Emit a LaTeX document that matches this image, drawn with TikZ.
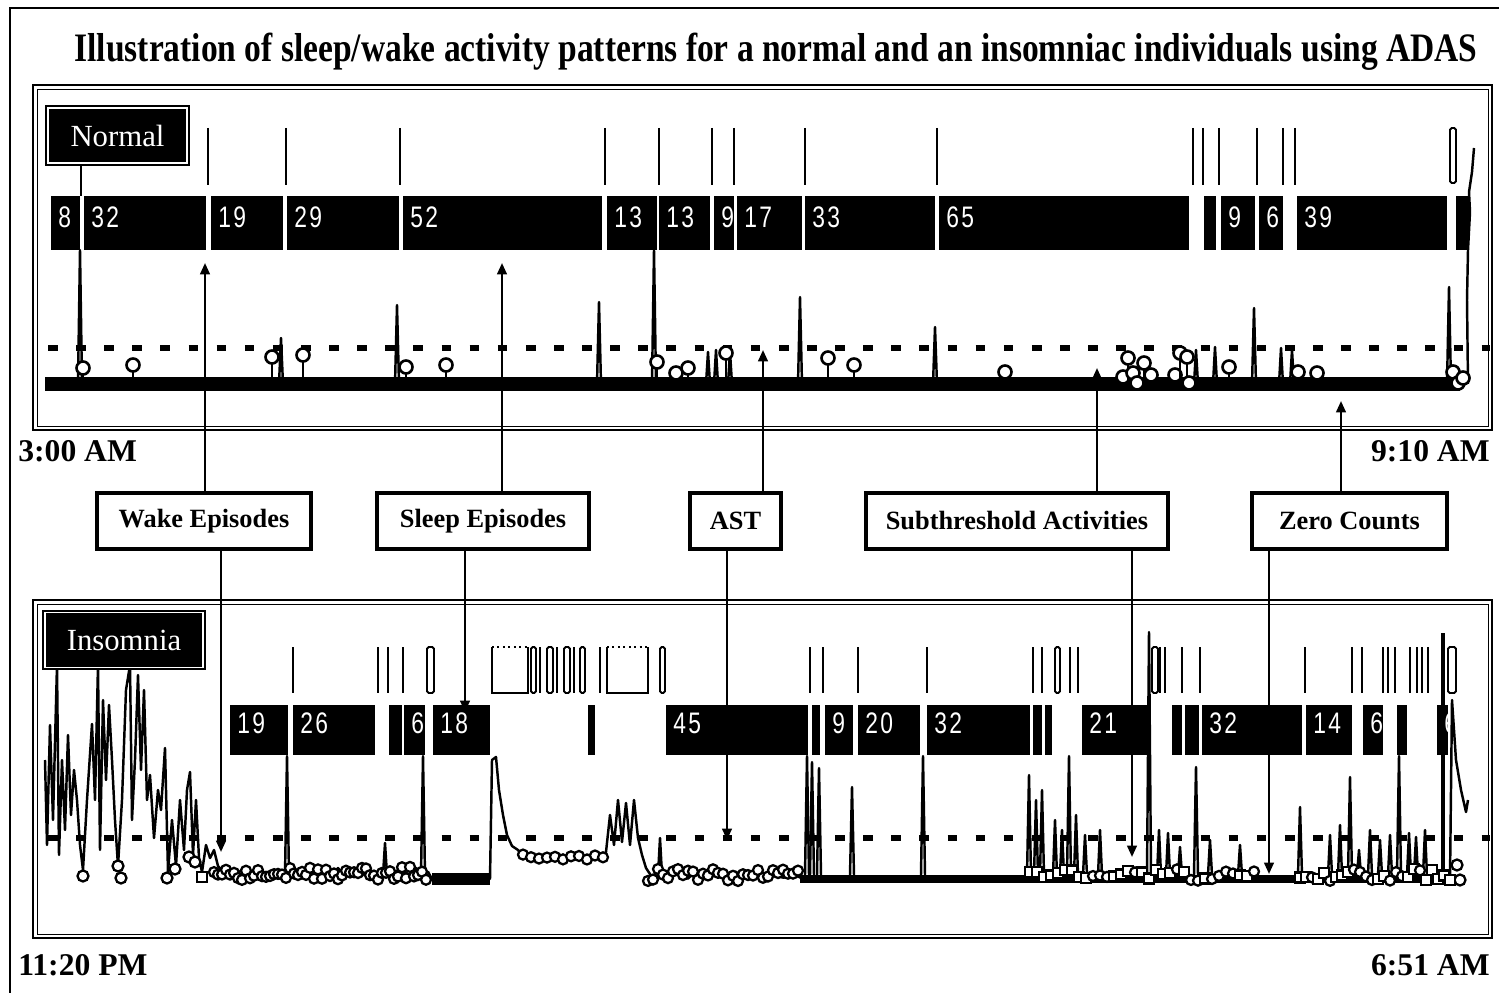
\documentclass[tikz,border=0pt]{standalone}
\usepackage{fontspec}
\setmainfont{Liberation Serif}
\setsansfont{Liberation Sans}
\newfontfamily\barfont[LetterSpace=10]{Liberation Sans}
\usetikzlibrary{arrows.meta}
\newcommand{\tallnum}[1]{\scalebox{1}[1.3]{#1}}
\tikzset{%
  >={Triangle[length=6.5pt,width=5.5pt]},
  panel/.style = {draw=black, line width=1.6pt},
  callout/.style = {rectangle, draw=black, line width=2pt, fill=white,
      inner sep=0pt, minimum height=1.12cm,
      font=\fontsize{15}{18}\selectfont\bfseries},
  tag/.style = {rectangle, fill=black, draw=black, double=white,
      double distance=0.7pt, line width=1.2pt, text=white, inner sep=0pt,
      minimum height=1.1cm, font=\fontsize{17.5}{20}\selectfont},
  barnum/.style = {text=white, anchor=west, inner sep=0pt,
      font=\barfont\fontsize{13}{16}\selectfont},
  clock/.style = {inner sep=0pt, font=\fontsize{18}{20}\selectfont\bfseries},
  tickmark/.style = {line width=1.5pt},
  tickbox/.style = {line width=1.1pt},
  trace/.style = {line width=1.4pt, line join=round},
  thresh/.style = {line width=3.2pt, dash pattern=on 5.5pt off 10.5pt},
  lolly/.style = {line width=1.5pt, fill=white},
  mk/.style = {line width=1.3pt, fill=white},
  link/.style = {->, line width=1.3pt},
}

\begin{document}
\begin{tikzpicture}[x=0.02cm, y=-0.02cm]
  \useasboundingbox (0,0) rectangle (1499,993);
  \pgfmathsetseed{7}
  % outer frame and title
  \draw[line width=1.5pt] (1499,8) -- (10,8) -- (10,993);
  \node (title) at (776,52) {\resizebox{28.06cm}{\height}{\fontsize{23}{26}\selectfont\bfseries
      Illustration of sleep/wake activity patterns for a normal and an insomniac individuals using ADAS}};

  % the two panels
  \draw[panel] (33,85) rectangle (1492,430);
  \draw[line width=0.5pt] (37,89) rectangle (1488,426);
  \draw[panel] (33,600) rectangle (1492,938);
  \draw[line width=0.5pt] (37,604) rectangle (1488,934);

  \node[clock, anchor=west] (topStart) at (18,451) {3:00 AM};
  \node[clock, anchor=east] (topEnd)   at (1490,451) {9:10 AM};
  \node[clock, anchor=west] (botStart) at (18,965) {11:20 PM};
  \node[clock, anchor=east] (botEnd)   at (1490,965) {6:51 AM};

  % ---------------- Normal ----------------
  \foreach \a/\b/\t [count=\i] in {51/80/8, 84/206/32, 211/283/19, 287/399/29,
      403/602/52, 607/657/13, 659/710/13, 714/734/9, 737/802/17, 805/935/33,
      939/1189/65, 1204/1216/, 1221/1255/9, 1259/1283/6, 1297/1447/39, 1456/1469/} {
    \fill (\a,196) rectangle (\b,250);
    \node[barnum] (nb\i) at (\a+7,217) {\tallnum{\t}};
  }
  \foreach \x in {208,286,400,605,659,712,734,805,937,1193,1203,1219,1257,1283,1295}
    \draw[tickmark] (\x,128) -- (\x,185);
  \draw[tickbox, rounded corners=1pt] (1450,128) rectangle (1456,183);
  \draw[trace] (1468,384) -- (1467,300) -- (1468,250) -- (1470,212) -- (1469,192)
      -- (1472,172) -- (1474,148);

  \draw[thresh] (48,348) -- (1490,348);
  \draw[line width=8.5pt] (45,384) -- (1460,384);
  \foreach \x/\t in {80/250, 281/338, 397/305, 599/302, 654/250, 708/352, 716/350,
      730/352, 800/297, 935/327, 1196/350, 1215/347, 1254/308, 1281/348, 1292/350,
      1449/287}
    \draw[trace] (\x-2,384) -- (\x,\t) -- (\x+2,384);
  \foreach \x/\y in {83/368, 133/365, 272/357, 303/355, 406/367, 446/365, 657/362,
      676/373, 688/368, 726/353, 828/358, 854/365, 1005/372, 1123/377, 1128/358,
      1133/373, 1137/383, 1144/363, 1151/375, 1175/375, 1180/353, 1187/357,
      1189/383, 1229/367, 1298/372, 1317/373, 1453/372, 1458/383, 1463/378} {
    \draw[trace] (\x,384) -- (\x,\y+6);
    \draw[lolly] (\x,\y) circle (0.13cm);
  }
  \node[tag, minimum width=2.78cm] (normal) at (117.5,135.5) {Normal};
  \draw[trace] (normal.south -| 81,0) -- (81,196);

  % ---------------- Insomnia ----------------
  \foreach \a/\b/\t [count=\i] in {230/288/19, 293/375/26, 389/402/, 404/425/6,
      433/490/18, 588/595/, 666/808/45, 812/820/, 825/853/9, 858/920/20,
      927/1030/32, 1033/1042/, 1045/1052/, 1082/1148/21, 1172/1182/, 1185/1199/,
      1202/1302/32, 1306/1352/14, 1363/1383/6, 1397/1407/, 1437/1448/6} {
    \fill (\a,705) rectangle (\b,755);
    \node[barnum] (ib\i) at (\a+7,723) {\tallnum{\t}};
  }
  \foreach \x in {293,378,388,403,540,557,574,600,810,823,858,927,1033,1042,1070,
      1078,1160,1165,1182,1200,1305,1352,1362,1383,1388,1395,1410,1417,1422,1428}
    \draw[tickmark] (\x,647) -- (\x,693);
  \foreach \a/\b in {427/434, 531/536, 547/553, 564/570, 580/585, 660/665,
      1055/1060, 1152/1158, 1448/1456}
    \draw[tickbox, rounded corners=1pt] (\a,647) rectangle (\b,693);
  \foreach \a/\b in {492/528, 607/648} {
    \draw[tickbox] (\a,647) -- (\a,693) -- (\b,693) -- (\b,647);
    \draw[tickbox, dotted] (\a,647) -- (\b,647);
  }

  \draw[thresh] (48,838) -- (1490,838);
  % restless start, then the settled stretches
  \draw[trace] (45,760) -- (47,845) -- (50,725) -- (53,820) -- (57,665) -- (59,855)
      -- (62,760) -- (65,830) -- (68,735) -- (71,815) -- (74,770) -- (77,800)
      -- (80,845) -- (83,870) -- (87,800) -- (92,724) -- (95,800) -- (98,665)
      -- (100,850) -- (103,700) -- (106,780) -- (109,705) -- (112,760) -- (115,820)
      -- (118,866) -- (122,800) -- (126,690) -- (130,665) -- (132,820) -- (135,760)
      -- (138,675) -- (141,770) -- (144,690) -- (147,800) -- (150,775) -- (154,838)
      -- (158,790) -- (161,810) -- (165,748) -- (168,872) -- (172,820) -- (176,866)
      -- (180,800) -- (184,850) -- (187,790) -- (190,772) -- (193,855) -- (196,800)
      -- (199,858) -- (202,872) -- (206,845) -- (210,858) -- (214,850) -- (218,866)
      foreach \x in {224,230,...,428} { -- (\x,{872+4*sin(\x*37)}) }
      -- (432,879) -- (490,879) -- (492,760) -- (496,757) -- (499,790) -- (503,815)
      -- (507,835) -- (512,846) -- (518,850) -- (523,857)
      foreach \x in {529,535,...,601} { -- (\x,{857+3*sin(\x*23)}) }
      -- (606,852) -- (610,815) -- (614,845) -- (618,800) -- (622,842) -- (626,803)
      -- (630,845) -- (634,800) -- (638,838) -- (642,855) -- (646,868)
      foreach \x in {652,658,...,802} { -- (\x,{875+4*sin(\x*19)}) }
      -- (1450,879) -- (1452,700) -- (1456,760) -- (1461,790) -- (1466,812)
      -- (1468,800);
  \draw[line width=7pt] (432,879) -- (490,879);
  \draw[line width=5pt] (800,879) -- (1452,879);
  \foreach \x/\t in {287/756, 385/843, 423/756, 660/838, 807/756, 812/762, 819/768,
      852/787, 923/756, 1029/775, 1036/800, 1042/790, 1055/820, 1062/830, 1069/756,
      1076/815, 1085/835, 1100/830, 1149/632, 1159/830, 1168/833, 1180/847,
      1196/767, 1210/840, 1240/845, 1300/807, 1330/835, 1340/825, 1350/777,
      1359/850, 1370/830, 1380/840, 1390/835, 1399/756, 1409/833, 1416/837,
      1425/830}
    \draw[trace] (\x-2,875) -- (\x,\t) -- (\x+2,875);
  \draw[line width=2.5pt] (1443,879) -- (1443,633);
  % markers
  \foreach \x/\y in {83/876, 118/866, 121/878, 167/878, 175/869, 189/857, 195/862,
      1457/865, 1460/880}
    \draw[mk] (\x,\y) circle (0.11cm);
  \draw[mk] (197,872) rectangle (207,882);
  \foreach \x in {214,218,...,428} {
    \pgfmathsetmacro\dy{rand*7}
    \draw[mk] (\x,873+\dy) circle (0.1cm);
  }
  \foreach \x in {523,531,...,605} {
    \pgfmathsetmacro\dy{rand*3}
    \draw[mk] (\x,857+\dy) circle (0.1cm);
  }
  \foreach \x in {648,653,...,800} {
    \pgfmathsetmacro\dy{rand*6}
    \draw[mk] (\x,875+\dy) circle (0.1cm);
  }
  \foreach \x in {1030,1037,...,1260,1300,1306,...,1450} {
    \pgfmathsetmacro\dy{rand*6}
    \pgfmathsetmacro\pick{rand}
    \ifdim\pick pt>0.3pt
      \draw[mk] (\x,875+\dy) circle (0.1cm);
    \else
      \draw[mk] (\x-5,870+\dy) rectangle (\x+5,880+\dy);
    \fi
  }
  \node[tag, minimum width=3.16cm] (insomnia) at (124,640) {Insomnia};

  % ---------------- call-outs ----------------
  \node[callout, minimum width=4.28cm] (wake)   at (204,521)    {Wake Episodes};
  \node[callout, minimum width=4.24cm] (sleep)  at (483,521)    {Sleep Episodes};
  \node[callout, minimum width=1.82cm] (ast)    at (735.5,521)  {AST};
  \node[callout, minimum width=6.04cm] (subthr) at (1017,521)   {Subthreshold Activities};
  \node[callout, minimum width=3.9cm]  (zero)   at (1349.5,521) {Zero Counts};

  \coordinate (wakeUp)    at (205,263);
  \coordinate (wakeDown)  at (221,852);
  \coordinate (sleepUp)   at (502,263);
  \coordinate (sleepDown) at (465,712);
  \coordinate (astUp)     at (763,350);
  \coordinate (astDown)   at (727,840);
  \coordinate (subUp)     at (1097,368);
  \coordinate (subDown)   at (1132,857);
  \coordinate (zeroUp)    at (1341,401);
  \coordinate (zeroDown)  at (1269,874);

  \draw[link] (wake.north -| wakeUp)     -- (wakeUp);
  \draw[link] (wake.south -| wakeDown)   -- (wakeDown);
  \draw[link] (sleep.north -| sleepUp)   -- (sleepUp);
  \draw[link] (sleep.south -| sleepDown) -- (sleepDown);
  \draw[link] (ast.north -| astUp)       -- (astUp);
  \draw[link] (ast.south -| astDown)     -- (astDown);
  \draw[link] (subthr.north -| subUp)    -- (subUp);
  \draw[link] (subthr.south -| subDown)  -- (subDown);
  \draw[link] (zero.north -| zeroUp)     -- (zeroUp);
  \draw[link] (zero.south -| zeroDown)   -- (zeroDown);
\end{tikzpicture}
\end{document}
